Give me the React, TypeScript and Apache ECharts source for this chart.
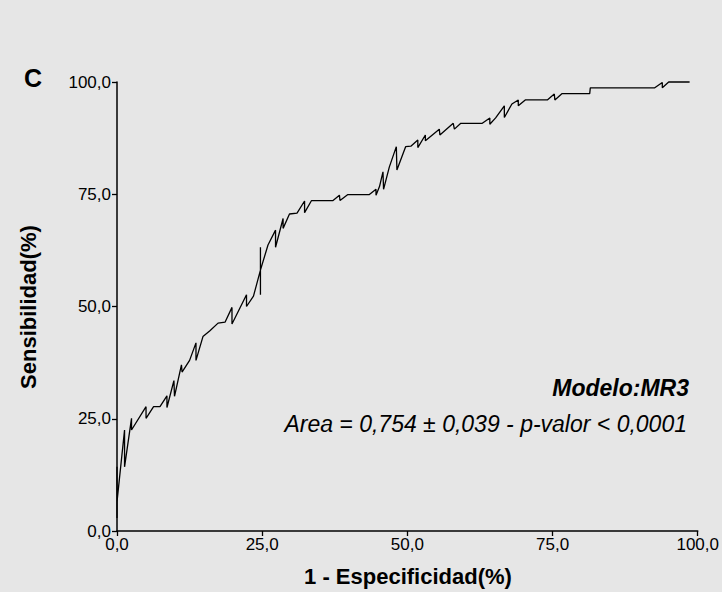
import React, { useEffect, useRef } from "react";
import * as echarts from "echarts";

// ROC curve: 1 - Especificidad (%) vs Sensibilidad (%)
const fpr: number[] = [
  0, 0, 0, 1.3, 1.3, 2.5, 2.5, 5.0, 5.0, 6.3, 7.4, 8.6, 8.6, 9.8, 9.9, 11.1, 11.2, 12.5,
  13.6, 13.6, 14.8, 16.0, 17.4, 18.6, 19.8, 19.8, 22.3, 22.3, 23.5, 24.7, 24.7, 24.7, 24.7,
  26.0, 27.3, 27.3, 28.6, 28.6, 29.7, 31.0, 32.3, 32.3, 33.5, 37.2, 38.3, 38.4, 39.7, 43.4,
  44.6, 44.6, 45.2, 45.8, 45.9, 46.9, 48.1, 48.2, 49.7, 50.6, 51.8, 51.8, 53.1, 53.1, 55.5,
  55.6, 57.9, 58.1, 59.2, 62.9, 64.2, 64.2, 65.2, 66.7, 66.7, 68.0, 69.1, 69.1, 70.3, 74.1,
  75.3, 75.4, 76.6, 81.4, 81.5, 92.6, 93.9, 93.9, 95.0, 98.6,
];
const tpr: number[] = [
  2.9, 14.3, 6.5, 22.5, 14.3, 25.1, 22.5, 27.7, 25.1, 27.7, 27.7, 30.1, 27.5, 33.5, 30.0, 37.0, 35.4, 38.0,
  41.9, 38.0, 43.3, 44.6, 46.3, 46.5, 49.8, 46.1, 52.6, 50.0, 52.3, 58.1, 63.2, 52.6, 58.1,
  63.7, 67.0, 63.2, 69.6, 67.4, 70.6, 70.8, 73.5, 70.9, 73.6, 73.6, 74.8, 73.6, 74.9, 74.9,
  76.1, 74.8, 76.7, 80.0, 76.1, 81.1, 85.6, 80.4, 85.6, 85.7, 87.1, 85.4, 88.2, 86.9, 89.5,
  88.2, 90.8, 89.5, 90.8, 90.8, 92.0, 90.6, 92.0, 94.7, 92.1, 95.1, 96.0, 94.7, 96.0, 96.0,
  97.3, 96.0, 97.4, 97.4, 98.7, 98.7, 99.9, 98.7, 100.0, 100.0,
];
const tickValues: number[] = [0, 25, 50, 75, 100];

const panelLabel = "C";
const modelLabel = "Modelo:MR3";
const areaLabel = "Area = 0,754 ± 0,039 - p-valor < 0,0001";
const xTitle = "1 - Especificidad(%)";
const yTitle = "Sensibilidad(%)";

const FONT = "'Liberation Sans', Arial, sans-serif";
const fmt = (v: number) => v.toFixed(1).replace(".", ",");

export default function App() {
  const ref = useRef<HTMLDivElement>(null);
  useEffect(() => {
    document.body.style.margin = "0";
    document.body.style.background = "#e6e6e6";
    const chart = echarts.init(ref.current!, null, { renderer: "svg" });
    const data = fpr.map((x, i) => [x, tpr[i]]);
    const axisCommon = {
      type: "value" as const,
      min: tickValues[0],
      max: tickValues[tickValues.length - 1],
      interval: 25,
      splitLine: { show: false },
      axisLine: { show: true, lineStyle: { color: "#000", width: 1.5 } },
      axisTick: { show: true, length: 5, inside: false, lineStyle: { color: "#000", width: 1.3 } },
      axisLabel: {
        color: "#000",
        fontSize: 17,
        fontFamily: FONT,
        formatter: (v: number) => fmt(v),
      },
    };
    chart.setOption({
      animation: false,
      backgroundColor: "#e6e6e6",
      grid: { left: 117, right: 23, top: 82, bottom: 61, containLabel: false },
      xAxis: { ...axisCommon, axisLabel: { ...axisCommon.axisLabel, margin: 5 } },
      yAxis: { ...axisCommon, axisLabel: { ...axisCommon.axisLabel, margin: 6 } },
      series: [
        {
          type: "line",
          data,
          symbol: "none",
          clip: false,
          lineStyle: { color: "#000", width: 1.3 },
        },
      ],
      graphic: [
        {
          type: "text",
          left: 24,
          top: 65,
          style: {
            text: panelLabel,
            font: `bold 25px ${FONT}`,
            fill: "#000",
            shadowColor: "rgba(0,0,0,0.35)",
            shadowOffsetX: 1,
            shadowOffsetY: 1,
            shadowBlur: 2,
          },
        },
        {
          type: "text",
          x: 689,
          y: 388,
          style: {
            text: modelLabel,
            font: `italic bold 23px ${FONT}`,
            fill: "#000",
            align: "right",
            verticalAlign: "middle",
          },
        },
        {
          type: "text",
          x: 687,
          y: 424,
          style: {
            text: areaLabel,
            font: `italic 23px ${FONT}`,
            fill: "#000",
            align: "right",
            verticalAlign: "middle",
          },
        },
        {
          type: "text",
          x: 408,
          y: 576,
          style: {
            text: xTitle,
            font: `bold 22px ${FONT}`,
            fill: "#000",
            align: "center",
            verticalAlign: "middle",
          },
        },
        {
          type: "text",
          x: 28,
          y: 307,
          rotation: Math.PI / 2,
          style: {
            text: yTitle,
            font: `bold 22px ${FONT}`,
            fill: "#000",
            align: "center",
            verticalAlign: "middle",
          },
        },
      ],
    });
    return () => chart.dispose();
  }, []);
  return <div ref={ref} style={{ width: 722, height: 592 }} />;
}
